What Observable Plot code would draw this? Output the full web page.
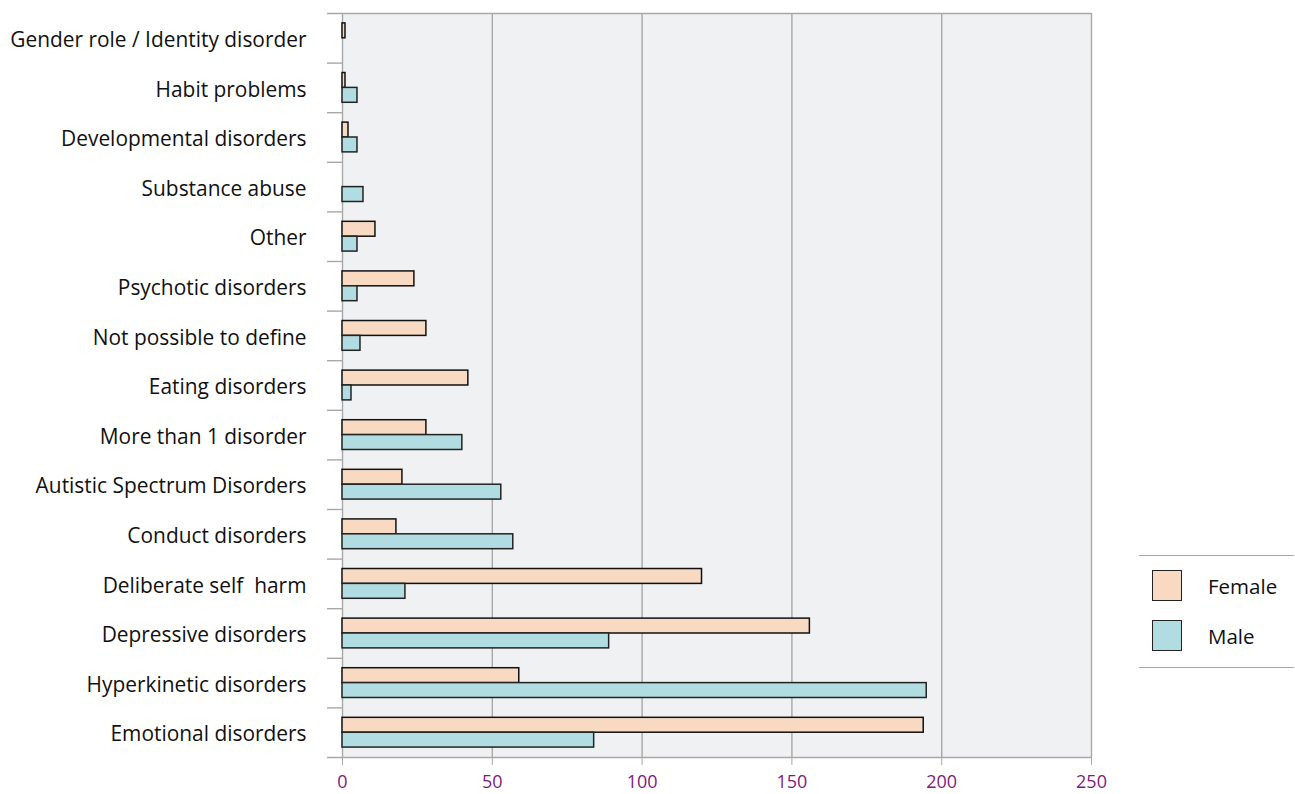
<!DOCTYPE html>
<html>
<head>
<meta charset="utf-8">
<script src="https://cdn.jsdelivr.net/npm/d3@7"></script>
<script src="https://cdn.jsdelivr.net/npm/@observablehq/plot@0.6"></script>
<style>
  body { margin: 0; background: #fff; }
  #wrap { position: relative; width: 1295px; height: 794px; font-family: "Open Sans", sans-serif; }
  #legend { position: absolute; left: 1139px; top: 555px; width: 155px; height: 113px;
            border-top: 1.5px solid #a8a8a8; border-bottom: 1.5px solid #a8a8a8; box-sizing: border-box; }
  .item { position: absolute; left: 13px; display: flex; align-items: center; font-size: 20.5px; color: #111; }
  .sw { width: 30px; height: 31px; border: 1.5px solid #222; box-sizing: border-box; margin-right: 26px; }
</style>
</head>
<body>
<div id="wrap"></div>
<script>
const categories = [
  "Gender role / Identity disorder",
  "Habit problems",
  "Developmental disorders",
  "Substance abuse",
  "Other",
  "Psychotic disorders",
  "Not possible to define",
  "Eating disorders",
  "More than 1 disorder",
  "Autistic Spectrum Disorders",
  "Conduct disorders",
  "Deliberate self  harm",
  "Depressive disorders",
  "Hyperkinetic disorders",
  "Emotional disorders"
];
const female = [1, 1, 2, 0, 11, 24, 28, 42, 28, 20, 18, 120, 156, 59, 194];
const male   = [0, 5, 5, 7, 5, 5, 6, 3, 40, 53, 57, 21, 89, 195, 84];
const xTicks = [0, 50, 100, 150, 200, 250];
const seriesNames = ["Female", "Male"];
const seriesColors = ["#f8dac3", "#b1dde2"];

const W = 1295, H = 794, mt = 13, mb = 37, ml = 342, mr = 204;
const step = (H - mt - mb) / categories.length;
const bw = step * 0.6;

const femaleRows = categories.map((c, i) => ({category: c, value: female[i]})).filter(d => d.value > 0);
const maleRows = categories.map((c, i) => ({category: c, value: male[i]})).filter(d => d.value > 0);

const chart = Plot.plot({
  width: W, height: H,
  marginTop: mt, marginBottom: mb, marginLeft: ml, marginRight: mr,
  style: {fontFamily: "Open Sans, sans-serif", background: "#fff", overflow: "visible"},
  x: {domain: [0, 250]},
  y: {domain: categories, paddingInner: 0.4, paddingOuter: 0.2, round: false},
  marks: [
    Plot.frame({fill: "#f0f1f3", stroke: "none"}),
    Plot.ruleX(xTicks, {stroke: "#a8a8a8", strokeWidth: 1.4}),
    Plot.ruleY([categories[0]], {y: d => d, x1: -5, x2: 250, dy: -step / 2, stroke: "#a8a8a8", strokeWidth: 1.4}),
    Plot.ruleY([categories[categories.length - 1]], {y: d => d, x1: -5, x2: 250, dy: step / 2, stroke: "#a8a8a8", strokeWidth: 1.4}),
    Plot.ruleY(categories.slice(1), {y: d => d, x1: -5, x2: 0, dy: -step / 2, stroke: "#a8a8a8", strokeWidth: 1.4}),
    Plot.barX(femaleRows, {x: "value", y: "category", fill: seriesColors[0], stroke: "#111", strokeWidth: 1.5, insetBottom: bw / 2}),
    Plot.barX(maleRows, {x: "value", y: "category", fill: seriesColors[1], stroke: "#222", strokeWidth: 1.5, insetTop: bw / 2}),
    Plot.axisY({tickSize: 0, tickPadding: 36, fontSize: 20.9, dy: 2, fill: "#111", label: null}),
    Plot.axisX(xTicks, {tickSize: 8, tickPadding: 10, fontSize: 18, stroke: "#a8a8a8", fill: "#7f1a7f", label: null})
  ]
});

const wrap = document.getElementById("wrap");
wrap.appendChild(chart);

const legend = document.createElement("div");
legend.id = "legend";
seriesNames.forEach((name, i) => {
  const item = document.createElement("div");
  item.className = "item";
  item.style.top = (14 + i * 50) + "px";
  const sw = document.createElement("div");
  sw.className = "sw";
  sw.style.background = seriesColors[i];
  const label = document.createElement("span");
  label.textContent = name;
  item.appendChild(sw);
  item.appendChild(label);
  legend.appendChild(item);
});
wrap.appendChild(legend);
</script>
</body>
</html>
